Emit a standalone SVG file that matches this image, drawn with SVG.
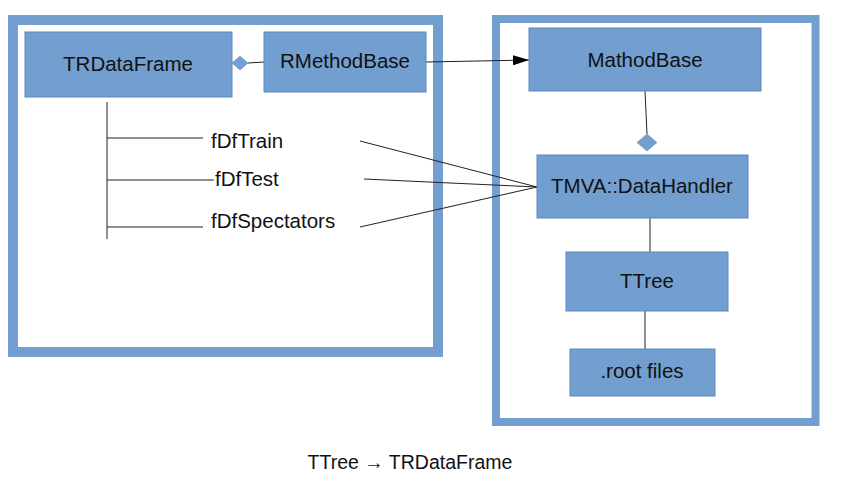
<svg xmlns="http://www.w3.org/2000/svg" width="842" height="493" viewBox="0 0 842 493">
<defs>
<style>
.frame{fill:none;stroke:#729fcf}
.box{fill:#729fcf;stroke:#5a88c2;stroke-width:1}
.lbl{font-family:"Liberation Sans",Arial,sans-serif;font-size:20.5px;fill:#111;text-anchor:middle}
.txt{font-family:"Liberation Sans",Arial,sans-serif;font-size:20.5px;fill:#111}
.ln{stroke:#222;stroke-width:1;fill:none}
.dia{fill:#729fcf;stroke:#5a88c2;stroke-width:0.5}
</style>
<marker id="arr" viewBox="0 0 16 10" refX="16" refY="5" markerWidth="16" markerHeight="10" markerUnits="userSpaceOnUse" orient="auto">
<path d="M0,0 L16,5 L0,10 Z" fill="#000"/>
</marker>
</defs>
<rect width="842" height="493" fill="#fff"/>
<g id="frame-left"><rect class="frame" x="13" y="20" width="425" height="332" stroke-width="10"/></g>
<g id="frame-right"><rect class="frame" x="496" y="19" width="319.5" height="403" stroke-width="8"/></g>
<g id="connectors">
<line class="ln" x1="248" y1="63" x2="264" y2="62"/>
<polygon class="dia" points="232,63 240,56 248,63 240,70"/>
<line class="ln" x1="426" y1="62" x2="529" y2="60" marker-end="url(#arr)"/>
<line class="ln" x1="645" y1="91" x2="647" y2="134"/>
<polygon class="dia" points="637,142.5 647,134 657,142.5 647,151"/>
<line class="ln" x1="650" y1="218" x2="650" y2="252"/>
<line class="ln" x1="645" y1="311" x2="645" y2="349"/>
<line class="ln" x1="107" y1="102" x2="107" y2="239"/>
<line class="ln" x1="107" y1="138" x2="203" y2="138"/>
<line class="ln" x1="107" y1="180" x2="214" y2="180"/>
<line class="ln" x1="107" y1="227" x2="203" y2="227"/>
<line class="ln" x1="360" y1="141" x2="537" y2="187"/>
<line class="ln" x1="364" y1="179" x2="537" y2="187"/>
<line class="ln" x1="360" y1="227" x2="537" y2="187"/>
</g>
<g id="TRDataFrame"><rect class="box" x="25" y="32" width="207" height="65"/><text class="lbl" x="128" y="71">TRDataFrame</text></g>
<g id="RMethodBase"><rect class="box" x="264" y="32" width="162" height="60"/><text class="lbl" x="345" y="68">RMethodBase</text></g>
<g id="MathodBase"><rect class="box" x="529" y="28" width="232" height="63"/><text class="lbl" x="645" y="67">MathodBase</text></g>
<g id="DataHandler"><rect class="box" x="537" y="155" width="211" height="63"/><text class="lbl" x="642" y="193">TMVA::DataHandler</text></g>
<g id="TTree"><rect class="box" x="566" y="252" width="162" height="59"/><text class="lbl" x="647" y="288">TTree</text></g>
<g id="rootfiles"><rect class="box" x="570" y="349" width="145" height="47"/><text class="lbl" x="642" y="378">.root files</text></g>
<g id="fDfTrain"><text class="txt" x="211" y="148">fDfTrain</text></g>
<g id="fDfTest"><text class="txt" x="215" y="186">fDfTest</text></g>
<g id="fDfSpectators"><text class="txt" x="211" y="228">fDfSpectators</text></g>
<g id="caption"><text class="lbl" x="410" y="469" style="font-size:19.5px">TTree → TRDataFrame</text></g>
</svg>
